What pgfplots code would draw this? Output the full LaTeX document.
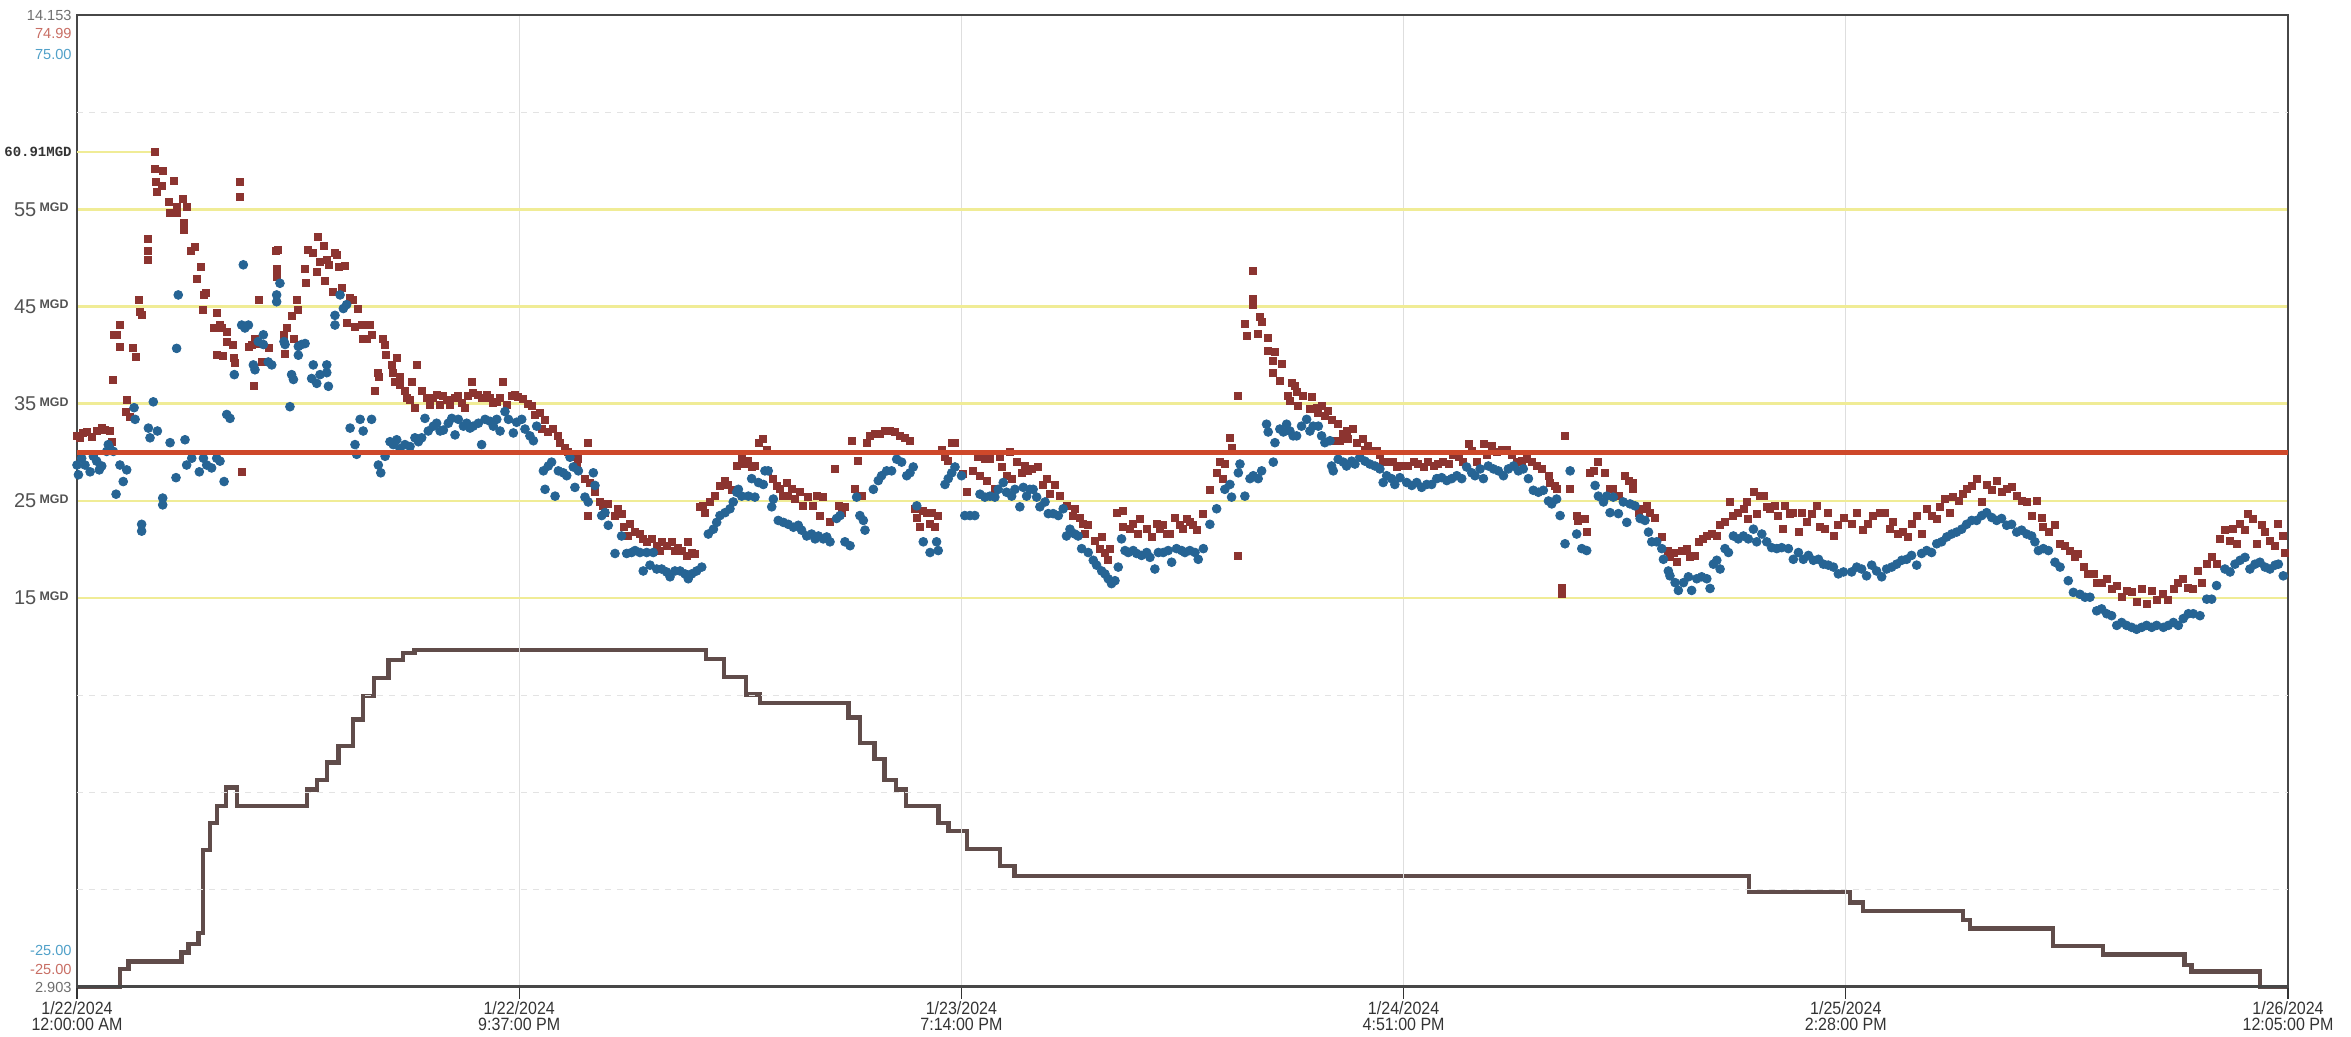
\documentclass[border=0pt]{standalone}
\usepackage{fontspec}
\setmainfont{Liberation Sans}
\newfontfamily\condfont{Liberation Sans}[FakeStretch=0.9]
\newfontfamily\monofont{Liberation Mono}
\usepackage{pgfplots}
\pgfplotsset{compat=1.18}
\definecolor{ptred}{RGB}{140,52,48}
\definecolor{ptblue}{RGB}{38,100,148}
\definecolor{stepc}{RGB}{96,76,74}
\definecolor{redline}{RGB}{206,72,42}
\definecolor{yline}{RGB}{240,236,150}
\definecolor{lblgray}{RGB}{110,110,110}
\definecolor{lblred}{RGB}{200,110,100}
\definecolor{lblblue}{RGB}{80,160,200}
\definecolor{gridc}{RGB}{222,222,222}
\newcommand\mgd{\raisebox{2.3pt}{\fontsize{6.2}{7}\selectfont\bfseries MGD}}
\begin{document}
\begin{tikzpicture}
\useasboundingbox (-38.5pt,-25pt) rectangle (1137pt,493.5pt);
% ---- step series on its own scale ----
\begin{axis}[
  width=1105.5pt, height=486pt, scale only axis,
  xmin=0, xmax=108.083, ymin=2.903, ymax=14.153,
  hide axis, clip=false]
\addplot[stepc, line width=2.2pt, const plot mark left] coordinates {
(0,2.903) (2.10,3.11) (2.52,3.20) (5.11,3.30) (5.45,3.40) (5.94,3.53)
(6.15,4.49) (6.50,4.80) (6.85,5.00) (7.27,5.21) (7.83,5.00)
(11.25,5.19) (11.74,5.30) (12.23,5.50) (12.79,5.69) (13.49,6.00) (13.98,6.27)
(14.53,6.48) (15.23,6.69) (15.93,6.77) (16.49,6.80)
(30.74,6.70) (31.64,6.49) (32.69,6.29) (33.39,6.19) (37.72,6.02) (38.28,5.73)
(38.98,5.54) (39.47,5.30) (40.03,5.19) (40.51,5.00) (42.12,4.80) (42.61,4.71)
(43.52,4.50) (45.12,4.30) (45.82,4.19) (81.72,4.00) (86.68,3.88) (87.31,3.78)
(92.20,3.68) (92.54,3.58) (96.59,3.38) (99.04,3.28) (103.02,3.16) (103.37,3.08)
(106.72,2.903) (108.083,2.903)};
\end{axis}
% ---- main axis ----
\begin{axis}[
  width=1105.5pt, height=486pt, scale only axis,
  xmin=0, xmax=108.083, ymin=-25, ymax=75,
  clip mode=individual,
  axis line style={draw=black!72, line width=0.9pt},
  xtick={0,21.617,43.233,64.85,86.467,108.083},
  xticklabels={{1/22/2024\\12:00:00 AM},{1/22/2024\\9:37:00 PM},{1/23/2024\\7:14:00 PM},{1/24/2024\\4:51:00 PM},{1/25/2024\\2:28:00 PM},{1/26/2024\\12:05:00 PM}},
  xticklabel style={align=center, font=\condfont\fontsize{8.9}{7.9}\selectfont, text=black!80, inner sep=1pt},
  xtick pos=lower, xtick align=outside,
  major tick length=6pt, minor tick length=0pt,
  minor x tick num=2,
  xmajorgrids, xminorgrids,
  major x grid style={gridc, line width=0.6pt},
  minor x grid style={gridc, line width=0.6pt},
  ytick={15,25,35,45,55},
  yticklabels={{15\,\mgd},{25\,\mgd},{35\,\mgd},{45\,\mgd},{55\,\mgd}},
  yticklabel style={font=\fontsize{10}{12}\selectfont, text=black!68, inner sep=0pt, xshift=-4pt},
  ytick style={draw=none},
  ymajorgrids,
  major y grid style={yline, line width=1.3pt},
  tick style={black!80, line width=0.6pt},
]
% faint gray reference lines
\addplot[black!11, dashed, line width=0.6pt, forget plot] coordinates {(0,65) (108.083,65)};
\addplot[black!11, dashed, line width=0.6pt, forget plot] coordinates {(0,5) (108.083,5)};
\addplot[black!11, dashed, line width=0.6pt, forget plot] coordinates {(0,-5) (108.083,-5)};
\addplot[black!11, dashed, line width=0.6pt, forget plot] coordinates {(0,-15) (108.083,-15)};
% partial max line
\addplot[yline, line width=1.3pt, forget plot] coordinates {(0,60.91) (3.75,60.91)};
% red squares
\addplot[only marks, mark=square*, mark size=1.75pt, color=ptred] coordinates {
(0.00,31.7)(0.15,31.5)(0.31,32.0)(0.47,32.1)(0.72,31.6)(0.96,32.2)(1.21,32.5)(1.37,32.3)(1.61,32.2)(1.69,31.1)(1.74,37.5)(1.78,42.1)(1.94,42.1)(2.10,43.1)(2.10,40.9)(2.43,35.4)(2.38,34.2)(2.59,33.7)(2.75,40.7)(2.88,39.8)(3.05,45.7)(3.08,44.5)(3.16,44.1)(3.49,52.0)(3.49,50.7)(3.49,49.8)(3.81,60.91)(3.81,59.2)(4.19,59.0)(3.85,57.8)(3.90,56.8)(4.14,57.4)(4.51,55.8)(4.55,54.6)(4.87,55.3)(4.87,54.6)(4.74,57.9)(5.20,56.1)(5.25,53.6)(5.25,52.9)(5.36,55.3)(5.56,50.7)(5.77,51.1)(5.88,47.9)(6.05,49.1)(6.18,46.2)(6.31,46.4)(6.14,44.7)(6.67,42.8)(6.83,44.3)(6.99,43.1)(7.07,42.8)(6.83,40.0)(7.15,39.9)(7.32,41.4)(7.64,41.1)(7.32,42.4)(7.67,39.7)(7.72,39.2)(7.97,57.8)(7.97,56.3)(8.05,28.0)(8.38,40.9)(8.54,41.1)(8.70,41.7)(8.78,41.2)(8.65,36.8)(8.91,45.7)(9.03,39.3)(9.27,39.3)(9.40,40.7)(9.73,50.7)(9.76,48.9)(9.76,48.1)(9.84,50.8)(10.09,42.1)(10.17,40.1)(10.25,42.8)(10.49,44.0)(10.58,41.7)(10.77,45.7)(10.82,44.7)(11.15,48.9)(11.18,47.4)(11.31,50.8)(11.55,50.5)(11.72,48.6)(11.80,52.2)(11.88,49.6)(12.07,51.2)(12.12,47.6)(12.21,49.8)(12.29,49.3)(12.50,46.5)(12.61,50.5)(12.69,50.3)(12.78,49.1)(13.10,49.2)(12.94,46.9)(13.18,43.3)(13.35,45.9)(13.51,45.7)(13.59,42.9)(13.75,44.8)(13.92,43.1)(13.99,41.7)(14.16,41.7)(14.32,43.1)(14.40,42.1)(14.57,36.3)(14.73,38.2)(14.76,37.8)(14.94,41.7)(15.06,41.1)(15.10,40.0)(15.38,39.0)(15.46,38.2)(15.55,37.3)(15.63,39.7)(15.79,37.8)(15.79,36.9)(16.03,36.3)(16.12,35.6)(16.28,35.4)(16.36,37.3)(16.52,34.6)(16.60,39.0)(16.85,36.3)(17.09,35.6)(17.26,34.9)(17.42,35.6)(17.58,35.9)(17.75,34.9)(17.91,35.8)(18.07,35.4)(18.23,34.9)(18.48,35.6)(18.64,35.8)(18.80,35.1)(18.97,34.6)(19.13,35.8)(19.29,37.3)(19.37,36.1)(19.62,35.9)(19.78,35.6)(20.03,35.9)(20.19,35.6)(20.35,35.1)(20.52,35.2)(20.68,35.6)(20.84,37.3)(21.00,34.9)(21.25,35.8)(21.41,35.9)
(21.57,35.7)(21.82,35.5)(22.06,35.0)(22.22,34.8)(22.39,33.9)(22.63,34.1)(22.88,33.3)(22.71,32.4)(23.04,32.1)(23.28,32.4)(23.50,31.7)(23.61,31.0)(23.85,30.5)(24.02,30.0)(24.26,29.5)(24.51,29.3)(24.42,28.6)(24.83,27.3)(24.99,31.0)(25.08,26.9)(25.32,25.9)(24.99,23.5)(25.57,24.9)(25.73,24.5)(25.97,24.7)(25.81,23.8)(26.30,23.5)(26.46,24.2)(26.62,23.7)(26.71,22.3)(27.03,22.6)(26.95,21.4)(27.28,21.8)(27.52,21.6)(27.68,21.1)(27.85,20.8)(28.09,21.1)(28.34,20.4)(28.50,19.9)(28.58,20.8)(28.82,20.4)(29.07,20.8)(29.23,19.9)(29.39,20.2)(29.56,19.9)(29.80,19.4)(29.88,20.8)(30.05,19.7)(30.21,19.6)(30.45,24.4)(30.62,24.5)(30.70,23.8)(30.94,24.9)(31.19,25.5)(31.43,26.6)(31.68,27.1)(31.84,26.7)(32.00,26.1)(32.25,28.6)(32.49,29.3)(32.65,28.8)(32.82,29.1)(32.98,28.5)(33.14,28.6)(33.31,31.0)(33.55,31.4)(33.71,30.3)(33.79,28.1)(34.04,27.3)(34.20,26.6)(34.36,26.2)(34.53,25.5)(34.69,26.9)(34.77,25.5)(34.93,26.2)(35.10,25.2)(35.34,25.9)(35.50,24.5)(35.75,25.4)(35.99,24.5)(36.16,25.5)(36.32,23.5)(36.48,25.4)(36.81,22.8)(37.05,28.3)(37.22,24.5)(37.38,23.8)(37.54,24.4)(37.87,31.2)(38.03,26.2)(38.19,29.1)(38.36,25.5)(38.60,31.0)(38.76,31.7)(39.01,31.9)(39.25,31.9)(39.50,32.2)(39.74,32.2)(39.99,32.1)(40.23,31.7)(40.47,31.5)(40.72,31.2)(40.96,24.2)(41.05,23.3)(41.21,22.3)(41.37,24.0)(41.53,23.8)(41.70,22.6)(41.78,23.8)(41.94,22.3)(42.10,23.5)(42.27,30.3)(42.43,29.5)(42.59,29.1)(42.76,31.0)(42.92,31.0)
(43.32,27.8)(43.49,25.9)(43.81,28.1)(44.06,29.5)(44.14,27.6)(44.38,29.3)(44.46,27.1)(44.63,29.3)(44.87,26.2)(45.12,29.5)(45.20,28.5)(45.44,27.6)(45.60,30.0)(45.69,27.3)(45.93,29.0)(46.17,27.9)(46.34,28.6)(46.50,28.1)(46.66,28.3)(46.99,28.5)(47.23,26.7)(47.40,27.3)(47.56,25.7)(47.80,26.7)(48.05,25.5)(48.37,24.5)(48.70,23.5)(48.78,24.2)(49.03,23.3)(49.19,22.6)(49.27,21.6)(49.43,22.5)(49.76,20.9)(50.09,21.3)(50.00,20.1)(50.25,19.7)(50.49,20.1)(50.41,18.9)(50.82,23.8)(51.14,24.0)(51.14,22.3)(51.47,22.1)(51.63,22.6)(51.96,23.2)(51.88,21.6)(52.29,22.1)(52.53,21.3)(52.77,22.6)(52.94,22.1)(53.10,22.5)(53.26,21.6)(53.43,21.6)(53.67,23.3)(53.91,22.5)(54.08,22.1)(54.24,23.2)(54.40,22.8)(54.57,22.5)(54.73,22.0)(55.06,23.7)(55.38,26.1)(55.71,27.9)(55.87,29.0)(56.03,27.3)(56.11,28.8)(56.36,31.5)(56.44,30.5)(56.77,35.8)(56.77,19.4)(57.09,43.2)(57.17,42.0)(57.47,48.7)(57.50,45.8)(57.50,45.2)(57.74,42.2)(57.83,43.9)(57.91,43.4)(58.23,41.8)(58.23,40.4)(58.56,40.3)(58.48,39.4)(58.88,39.1)(58.48,38.2)(58.80,37.4)(59.21,35.8)(59.29,35.3)(59.37,37.2)(59.54,36.8)(59.62,36.2)(59.70,34.8)(59.94,35.8)(60.27,34.5)(60.35,35.7)(60.60,34.6)(60.68,34.1)(60.84,34.8)(61.00,33.8)(61.17,34.3)(61.33,33.3)(61.41,31.2)(61.65,32.9)(61.74,31.2)(61.90,31.9)(62.06,32.2)(62.14,31.4)(62.39,32.4)(62.55,31.0)(62.88,31.4)(62.96,30.3)(63.12,30.7)(63.28,30.2)(63.53,30.2)(63.69,29.7)(63.85,29.0)(64.10,29.0)(64.34,29.0)(64.51,28.5)(64.67,28.6)
(65.08,28.6)(65.33,29.0)(65.57,28.8)(65.82,28.5)(66.06,29.0)(66.31,28.6)(66.55,28.8)(66.79,29.0)(67.04,28.8)(67.28,29.7)(67.53,29.5)(67.77,29.0)(68.02,30.9)(68.18,30.2)(68.42,29.0)(68.75,30.9)(68.91,29.7)(69.16,30.7)(69.40,30.0)(69.65,30.3)(69.89,30.3)(70.13,29.7)(70.38,29.0)(70.62,29.1)(70.87,29.3)(71.11,29.0)(71.36,28.6)(71.60,28.3)(71.93,27.6)(72.01,26.9)(72.25,26.6)(72.33,26.2)(72.58,16.1)(72.58,15.4)(72.74,31.7)(72.99,26.2)(73.31,23.5)(73.39,23.0)(73.72,23.2)(73.80,21.8)(73.96,27.9)(74.13,28.1)(74.37,29.0)(74.70,27.9)(74.94,26.2)(75.10,26.2)(75.35,25.5)(75.67,27.6)(75.84,27.1)(76.08,26.9)(76.08,26.2)(76.33,23.8)(76.49,24.2)(76.73,24.5)(76.90,23.8)(77.14,23.3)(77.47,21.3)(77.79,19.9)(77.87,19.2)(78.04,19.7)(78.20,18.7)(78.44,19.9)(78.69,20.1)(78.85,19.2)(79.10,19.4)(79.26,20.8)(79.50,21.1)(79.67,21.4)(79.91,21.6)(80.16,21.4)(80.32,22.5)(80.56,22.8)(80.81,24.9)(80.97,23.5)(81.21,23.8)(81.46,24.2)(81.62,24.9)(81.70,23.2)(81.95,25.9)(82.11,23.7)(82.27,25.5)(82.44,25.5)(82.60,24.4)(82.76,24.2)(83.01,24.5)(83.17,23.5)(83.41,22.1)(83.50,24.5)(83.74,23.7)(83.90,23.8)(84.15,21.8)(84.31,23.8)(84.55,22.8)(84.80,23.7)(85.04,24.5)(85.21,22.3)(85.45,22.1)(85.61,23.8)(85.86,21.4)(86.10,22.5)(86.35,23.3)
(86.75,22.6)(87.00,23.8)(87.32,22.0)(87.57,22.6)(87.81,23.5)(88.14,23.8)(88.38,23.8)(88.63,22.1)(88.79,22.8)(89.03,21.6)(89.28,21.8)(89.52,21.3)(89.68,22.6)(89.93,23.5)(90.17,21.6)(90.42,24.2)(90.66,23.5)(90.91,23.2)(91.07,24.4)(91.31,25.2)(91.56,23.8)(91.72,25.4)(91.97,25.0)(92.21,25.7)(92.37,26.2)(92.62,26.6)(92.86,27.3)(93.11,24.9)(93.35,26.7)(93.60,26.1)(93.84,27.1)(94.08,25.9)(94.33,26.2)(94.57,26.4)(94.82,25.5)(95.06,25.0)(95.31,24.9)(95.55,23.5)(95.80,25.0)(96.04,23.3)(96.12,22.3)(96.37,21.8)(96.69,22.5)(96.94,20.6)(97.18,20.4)(97.42,19.9)(97.67,19.2)(97.83,19.6)(98.08,18.2)(98.32,17.5)(98.57,17.5)(98.73,16.6)(98.97,16.6)(99.22,17.0)(99.46,16.0)(99.71,16.3)(99.95,15.1)(100.19,15.8)(100.44,15.6)(100.68,14.6)(100.93,16.0)(101.17,14.4)(101.42,15.8)(101.66,14.8)(101.99,15.4)(102.23,14.8)(102.48,16.0)(102.72,16.6)(102.96,17.0)(103.21,16.1)(103.45,16.0)(103.70,17.8)(103.86,16.6)(104.11,18.5)(104.35,19.2)(104.59,18.5)(104.76,21.1)(105.00,22.0)(105.25,20.9)(105.41,22.1)(105.57,20.6)(105.74,22.6)(105.98,22.0)(106.14,23.7)(106.39,23.2)(106.55,20.6)(106.79,22.5)(106.96,21.8)(107.20,20.9)(107.45,20.4)(107.61,22.6)(107.85,21.4)(107.93,19.7)
};
% blue circles
\addplot[only marks, mark=*, mark size=2.2pt, color=ptblue] coordinates {
(0.00,28.7)(0.07,27.7)(0.23,29.4)(0.39,28.7)(0.64,28.0)(0.80,29.6)(0.96,29.1)(1.09,28.2)(1.21,28.6)(1.45,30.1)(1.53,30.8)(1.61,30.4)(1.78,30.1)(1.91,25.7)(2.10,28.7)(2.26,27.0)(2.43,28.2)(2.79,34.6)(2.84,33.4)(3.16,22.6)(3.16,21.9)(3.49,32.5)(3.57,31.5)(3.73,35.2)(3.93,32.2)(4.19,25.3)(4.19,24.6)(4.55,31.0)(4.84,27.4)(4.87,40.7)(4.95,46.2)(5.28,31.3)(5.36,28.7)(5.61,29.4)(5.98,28.0)(6.18,29.4)(6.34,28.7)(6.58,28.4)(6.83,29.4)(6.99,29.1)(7.19,27.0)(7.32,33.9)(7.48,33.5)(7.69,38.0)(8.05,43.1)(8.21,42.8)(8.38,43.1)(8.13,49.3)(8.62,39.0)(8.70,38.5)(8.86,41.4)(9.11,42.1)(9.11,41.1)(9.35,39.3)(9.52,39.0)(9.76,46.2)(9.76,45.5)(9.92,47.4)(10.12,41.4)(10.17,41.1)(10.41,34.7)(10.49,38.0)(10.58,37.5)(10.82,40.9)(10.82,40.0)(10.98,41.1)(11.15,41.2)(11.47,37.6)(11.55,39.0)(11.72,37.1)(11.88,38.0)(12.21,39.0)(12.21,38.2)(12.29,36.8)(12.61,44.1)(12.61,43.1)(12.86,46.2)(13.02,44.8)(13.18,45.2)(13.35,32.5)(13.59,30.8)(13.67,29.8)(13.84,33.4)(13.99,32.2)(14.40,33.4)(14.73,28.7)(14.85,27.9)(15.06,29.6)(15.30,31.1)(15.46,30.8)(15.63,31.3)(15.79,30.4)(16.03,30.8)(16.28,30.6)(16.52,31.5)(16.69,31.1)(16.85,31.5)(17.01,33.5)(17.17,32.2)(17.42,32.7)(17.58,33.0)(17.75,32.2)(17.91,32.3)(18.15,33.0)(18.32,33.5)(18.48,31.8)(18.64,33.4)(18.89,32.7)(19.05,33.0)(19.21,32.5)(19.37,32.7)(19.62,33.0)(19.78,30.8)(19.95,33.4)(20.19,33.2)(20.35,32.7)(20.52,33.4)(20.68,32.2)(20.92,34.2)(21.09,33.4)(21.33,32.0)
(21.49,33.1)(21.74,33.4)(21.90,32.4)(22.14,31.7)(22.31,31.2)(22.47,32.7)(22.80,28.1)(22.88,26.2)(23.04,28.6)(23.20,29.0)(23.37,25.5)(23.53,28.1)(23.77,27.9)(23.94,27.6)(24.10,29.5)(24.26,28.5)(24.34,26.4)(24.51,28.1)(24.83,25.4)(24.99,24.9)(25.24,27.9)(25.32,26.6)(25.65,23.5)(25.81,23.8)(25.97,22.5)(26.30,19.6)(26.62,21.4)(26.87,19.6)(27.11,19.7)(27.28,19.9)(27.52,19.7)(27.68,17.8)(27.85,19.7)(28.01,18.4)(28.17,19.7)(28.34,18.0)(28.58,18.0)(28.82,17.7)(28.99,17.2)(29.23,17.8)(29.48,17.8)(29.72,17.5)(29.88,17.0)(30.05,17.5)(30.29,17.8)(30.54,18.2)(30.86,21.6)(31.11,22.1)(31.27,22.8)(31.43,23.5)(31.68,23.8)(31.92,24.2)(32.08,24.9)(32.25,25.9)(32.33,26.2)(32.49,25.5)(32.82,25.5)(32.98,27.3)(33.14,25.4)(33.31,26.9)(33.55,26.7)(33.63,28.1)(33.79,28.1)(33.96,24.4)(34.04,25.2)(34.28,23.0)(34.53,22.8)(34.77,22.6)(35.02,22.3)(35.26,22.5)(35.42,22.0)(35.67,21.4)(35.91,21.6)(36.08,21.1)(36.24,21.4)(36.48,21.1)(36.65,21.3)(36.81,20.8)(37.13,23.2)(37.30,23.5)(37.54,20.8)(37.79,20.4)(38.11,25.4)(38.27,23.5)(38.44,23.0)(38.52,22.0)(38.93,26.2)(39.17,27.1)(39.33,27.6)(39.58,28.1)(39.82,28.1)(40.07,29.3)(40.31,29.0)(40.56,27.6)(40.72,27.9)(40.88,28.5)(41.05,24.5)(41.37,20.8)(41.70,19.7)(42.02,20.8)(42.10,19.9)(42.43,26.7)(42.59,27.3)(42.76,27.9)(42.92,28.5)
(43.24,27.6)(43.40,23.5)(43.65,23.5)(43.89,23.5)(44.14,25.7)(44.38,25.4)(44.63,25.5)(44.87,25.4)(45.03,26.2)(45.28,26.9)(45.44,25.9)(45.69,25.5)(45.85,26.2)(46.09,24.4)(46.26,26.4)(46.42,25.5)(46.58,26.2)(46.74,26.2)(46.91,25.4)(47.07,24.4)(47.32,24.9)(47.48,23.7)(47.72,23.7)(47.97,23.5)(48.21,24.2)(48.37,21.4)(48.54,22.1)(48.78,21.6)(48.94,21.4)(49.11,20.1)(49.43,19.7)(49.68,18.9)(49.84,18.4)(50.09,17.8)(50.25,17.5)(50.41,17.0)(50.57,16.5)(50.74,16.8)(50.90,18.2)(51.06,21.1)(51.23,19.9)(51.39,19.7)(51.63,19.9)(51.80,19.6)(52.04,19.4)(52.29,19.7)(52.45,19.2)(52.69,18.0)(52.86,19.7)(53.10,19.7)(53.34,19.9)(53.51,18.7)(53.75,20.1)(54.00,19.9)(54.16,19.7)(54.40,19.9)(54.65,19.7)(54.81,19.0)(55.06,20.1)(55.38,22.6)(55.71,24.2)(56.11,26.2)(56.36,26.7)(56.44,25.4)(56.77,27.9)(56.85,28.8)(57.09,25.5)(57.34,27.3)(57.50,27.6)(57.74,27.3)(57.91,28.1)(58.15,32.9)(58.23,32.1)(58.48,29.0)(58.56,31.0)(58.80,32.4)(58.97,32.1)(59.13,32.9)(59.29,32.2)(59.45,31.7)(59.62,31.7)(59.86,32.7)(60.11,33.4)(60.27,32.2)(60.43,32.7)(60.68,32.7)(60.84,31.7)(61.00,31.0)(61.25,31.2)(61.33,28.6)(61.41,28.1)(61.65,29.3)(61.90,29.0)(62.06,28.6)(62.31,29.1)(62.47,28.8)(62.71,29.5)(62.96,29.1)(63.20,28.8)(63.45,28.6)(63.69,28.3)(63.85,26.9)(64.02,27.6)(64.26,27.3)(64.42,26.7)(64.67,27.4)
(65.00,26.9)(65.25,26.6)(65.49,26.9)(65.73,26.4)(65.98,26.7)(66.22,26.7)(66.47,27.3)(66.71,27.4)(66.96,27.1)(67.20,27.3)(67.45,27.6)(67.69,27.3)(67.93,28.5)(68.18,27.9)(68.34,27.6)(68.59,28.3)(68.75,27.3)(68.99,28.6)(69.24,28.3)(69.48,28.1)(69.73,27.6)(69.97,28.3)(70.22,28.6)(70.46,28.1)(70.70,28.3)(70.95,27.3)(71.19,26.1)(71.44,25.9)(71.68,26.1)(71.93,25.0)(72.09,24.7)(72.33,25.2)(72.50,23.5)(72.74,20.6)(72.99,28.1)(73.31,21.6)(73.56,20.1)(73.80,19.9)(74.21,26.6)(74.37,25.5)(74.62,24.9)(74.78,25.5)(74.94,23.8)(75.10,25.4)(75.35,23.7)(75.59,24.9)(75.76,22.8)(75.92,24.7)(76.16,24.5)(76.41,23.2)(76.65,23.0)(76.82,21.8)(76.98,20.8)(77.22,20.8)(77.47,20.1)(77.55,19.0)(77.79,17.8)(77.87,17.3)(78.12,16.6)(78.28,15.8)(78.53,16.6)(78.77,17.2)(78.93,15.8)(79.18,17.0)(79.42,17.2)(79.67,17.0)(79.83,16.0)(79.99,18.5)(80.16,18.9)(80.32,18.0)(80.56,20.1)(80.73,19.7)(80.97,21.4)(81.21,21.1)(81.46,21.4)(81.70,21.1)(81.95,22.1)(82.11,20.8)(82.36,21.6)(82.60,20.8)(82.84,20.2)(83.09,20.1)(83.33,20.2)(83.66,20.1)(83.90,19.0)(84.15,19.7)(84.39,19.0)(84.64,19.4)(84.88,18.9)(85.13,19.0)(85.37,18.5)(85.61,18.4)(85.86,18.2)(86.10,17.5)(86.35,17.7)
(86.75,17.7)(87.00,18.2)(87.24,18.0)(87.48,17.3)(87.73,18.4)(87.97,17.8)(88.22,17.2)(88.46,18.0)(88.71,18.2)(88.95,18.5)(89.20,18.9)(89.44,19.0)(89.68,19.4)(89.93,18.4)(90.17,19.6)(90.42,19.9)(90.66,19.7)(90.91,20.6)(91.15,20.8)(91.40,21.3)(91.64,21.6)(91.88,21.8)(92.13,22.1)(92.37,22.6)(92.62,23.0)(92.86,23.0)(93.11,23.5)(93.35,23.8)(93.60,23.3)(93.84,23.0)(94.08,23.2)(94.33,22.5)(94.57,22.6)(94.82,21.8)(95.06,22.0)(95.31,21.6)(95.55,21.4)(95.71,20.8)(95.88,19.9)(96.12,20.1)(96.37,19.9)(96.69,18.7)(96.94,18.2)(97.34,16.8)(97.59,15.6)(97.91,15.4)(98.16,15.1)(98.40,15.1)(98.73,13.7)(98.97,13.9)(99.22,13.4)(99.46,13.2)(99.71,12.2)(99.95,12.5)(100.19,12.2)(100.44,12.0)(100.68,11.8)(100.93,12.0)(101.17,12.2)(101.42,12.0)(101.66,12.2)(101.99,12.0)(102.23,12.2)(102.48,12.5)(102.72,12.2)(102.96,12.9)(103.21,13.4)(103.45,13.4)(103.78,13.2)(104.11,14.9)(104.35,14.9)(104.59,16.3)(105.00,18.0)(105.25,17.7)(105.49,18.5)(105.74,18.9)(105.98,19.2)(106.22,18.0)(106.47,18.5)(106.71,18.7)(106.96,18.2)(107.20,18.0)(107.45,18.4)(107.61,18.5)(107.85,17.3)
};
% red threshold line
\addplot[redline, line width=2.8pt, forget plot] coordinates {(0,30) (108.083,30)};
% labels on the left
\node[anchor=east, inner sep=0pt, font=\monofont\bfseries\fontsize{7}{8}\selectfont, text=black!80] at ([xshift=-2.5pt]axis cs:0,60.91) {60.91MGD};
\node[anchor=east, inner sep=0pt, font=\fontsize{7.3}{8}\selectfont, text=lblgray] at ([xshift=-2.5pt]axis description cs:0,1) {14.153};
\node[anchor=east, inner sep=0pt, font=\fontsize{7.3}{8}\selectfont, text=lblred] at ([xshift=-2.5pt,yshift=-9pt]axis description cs:0,1) {74.99};
\node[anchor=east, inner sep=0pt, font=\fontsize{7.3}{8}\selectfont, text=lblblue] at ([xshift=-2.5pt,yshift=-19.5pt]axis description cs:0,1) {75.00};
\node[anchor=east, inner sep=0pt, font=\fontsize{7.3}{8}\selectfont, text=lblblue] at ([xshift=-2.5pt,yshift=18.5pt]axis description cs:0,0) {-25.00};
\node[anchor=east, inner sep=0pt, font=\fontsize{7.3}{8}\selectfont, text=lblred] at ([xshift=-2.5pt,yshift=9pt]axis description cs:0,0) {-25.00};
\node[anchor=east, inner sep=0pt, font=\fontsize{7.3}{8}\selectfont, text=lblgray] at ([xshift=-2.5pt]axis description cs:0,0) {2.903};
\draw[black!72, line width=1.5pt] (axis description cs:0,0) -- (axis description cs:1,0);
\end{axis}
\end{tikzpicture}
\end{document}
